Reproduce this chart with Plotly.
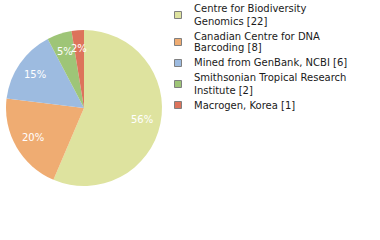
import math
import plotly.graph_objects as go

labels = ["Centre for Biodiversity Genomics [22]",
          "Canadian Centre for DNA Barcoding [8]",
          "Mined from GenBank, NCBI [6]",
          "Smithsonian Tropical Research Institute [2]",
          "Macrogen, Korea [1]"]
legend_lines = [["Centre for Biodiversity", "Genomics [22]"],
                ["Canadian Centre for DNA", "Barcoding [8]"],
                ["Mined from GenBank, NCBI [6]"],
                ["Smithsonian Tropical Research", "Institute [2]"],
                ["Macrogen, Korea [1]"]]
values = [22, 8, 6, 2, 1]
colors = ["#dee39f", "#efac72", "#9dbbe0", "#9ec577", "#dd735b"]

W, H = 380, 240
cx, cy, R = 84, 108, 78  # pie centre / radius in pixels

fig = go.Figure(go.Pie(
    labels=labels, values=values, sort=False, direction="clockwise", rotation=0,
    marker=dict(colors=colors, line=dict(width=0)),
    textinfo="none", hoverinfo="label+percent", showlegend=False,
    domain=dict(x=[(cx - R) / W, (cx + R) / W], y=[1 - (cy + R) / H, 1 - (cy - R) / H]),
))

total = sum(values)
cum = 0
annotations = []
for v in values:
    mid = (cum + v / 2) / total * 2 * math.pi
    cum += v
    px = cx + 0.76 * R * math.sin(mid)
    py = cy - 0.76 * R * math.cos(mid)
    annotations.append(dict(
        x=px / W, y=1 - py / H, xref="paper", yref="paper", showarrow=False,
        text=f"{int(100 * v / total)}%", xanchor="center", yanchor="middle",
        font=dict(color="white", size=10, family="DejaVu Sans")))

# legend drawn as text + swatches
shapes = []
y = 9
for lines, col in zip(legend_lines, colors):
    ys = []
    for ln in lines:
        annotations.append(dict(
            x=192 / W, y=1 - y / H, xref="paper", yref="paper", showarrow=False,
            text=ln, xanchor="left", yanchor="middle",
            font=dict(color="#1a1a1a", size=10, family="DejaVu Sans")))
        ys.append(y)
        y += 12
    ymid = sum(ys) / len(ys)
    shapes.append(dict(type="rect", xref="paper", yref="paper",
                       x0=174.5 / W, x1=181.5 / W,
                       y0=1 - (ymid - 3.5) / H, y1=1 - (ymid + 3.5) / H,
                       fillcolor=col, line=dict(color="#808080", width=1)))
    y += 3

fig.update_layout(
    width=W, height=H, margin=dict(l=0, r=0, t=0, b=0),
    paper_bgcolor="white", plot_bgcolor="white",
    annotations=annotations, shapes=shapes,
)
fig.write_html("out.html")
